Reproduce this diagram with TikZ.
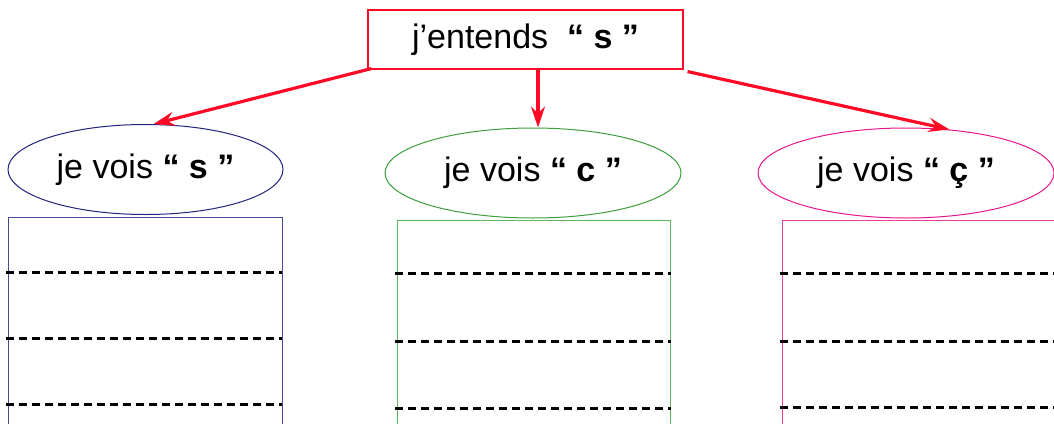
\documentclass[tikz,border=0pt]{standalone}
\usepackage{fontspec}
\setmainfont{Liberation Sans}
\usetikzlibrary{shapes.geometric,arrows.meta,calc}
\definecolor{cnavy}{HTML}{22227F}
\definecolor{cnavyl}{HTML}{4A4A9A}
\definecolor{cgreen}{HTML}{3C9E3C}
\definecolor{cgreenl}{HTML}{5DB85D}
\definecolor{cpink}{HTML}{E8168C}
\definecolor{cpinkl}{HTML}{EE3C9E}
\definecolor{cred}{HTML}{FF0A26}
\tikzset{
  topbox/.style={draw=cred, line width=1.1pt, minimum width=315pt, minimum height=59pt, inner sep=0pt, font=\fontsize{34}{38}\selectfont},
  vois/.style={ellipse, line width=1pt, minimum width=#1, minimum height=90pt, inner sep=0pt, font=\fontsize{34}{38}\selectfont},
  colbox/.style={line width=1.2pt, inner sep=0pt, anchor=north west},
  sep/.style={black, line width=3pt, dash pattern=on 8pt off 5pt},
  link/.style={cred, line width=3.2pt, -{Stealth[length=21pt,width=14pt,inset=7pt]}}
}
\begin{document}
\begin{tikzpicture}[x=1pt,y=-1pt]
\useasboundingbox (0,0) rectangle (1054,423);
\node[topbox] (top) at (525.5,39.5) {j’entends\ \ \textbf{“} \textbf{s} \textbf{”}};
\node[vois=275pt, draw=cnavy] (l) at (145.5,169.5) {je vois \textbf{“} \textbf{s} \textbf{”}};
\node[vois=296pt, draw=cgreen] (m) at (533,173) {je vois \textbf{“} \textbf{c} \textbf{”}};
\node[vois=296pt, draw=cpink] (r) at (906,173) {je vois \textbf{“} \textbf{ç} \textbf{”}};
\node[colbox, draw=cnavyl, minimum width=274pt, minimum height=220pt] (lb) at (8,217) {};
\node[colbox, draw=cgreenl, minimum width=273pt, minimum height=220pt] (mb) at (397,220) {};
\node[colbox, draw=cpinkl, minimum width=290pt, minimum height=220pt] (rb) at (782,220) {};
\foreach \y in {272,338,404} \draw[sep] (6,\y) -- (282,\y);
\foreach \y in {273,341,408} \draw[sep] (395,\y) -- (671,\y);
\foreach \y in {273,341,407} \draw[sep] (780,\y) -- (1060,\y);
\draw[link] ([xshift=4pt,yshift=1pt]top.south west) -- (l.80);
\draw[link] ([xshift=12.5pt]top.south) -- ([xshift=12.5pt]top.south |- m.north);
\draw[link] ([xshift=4pt,yshift=-2pt]top.south east) -- (r.45);
\end{tikzpicture}
\end{document}
